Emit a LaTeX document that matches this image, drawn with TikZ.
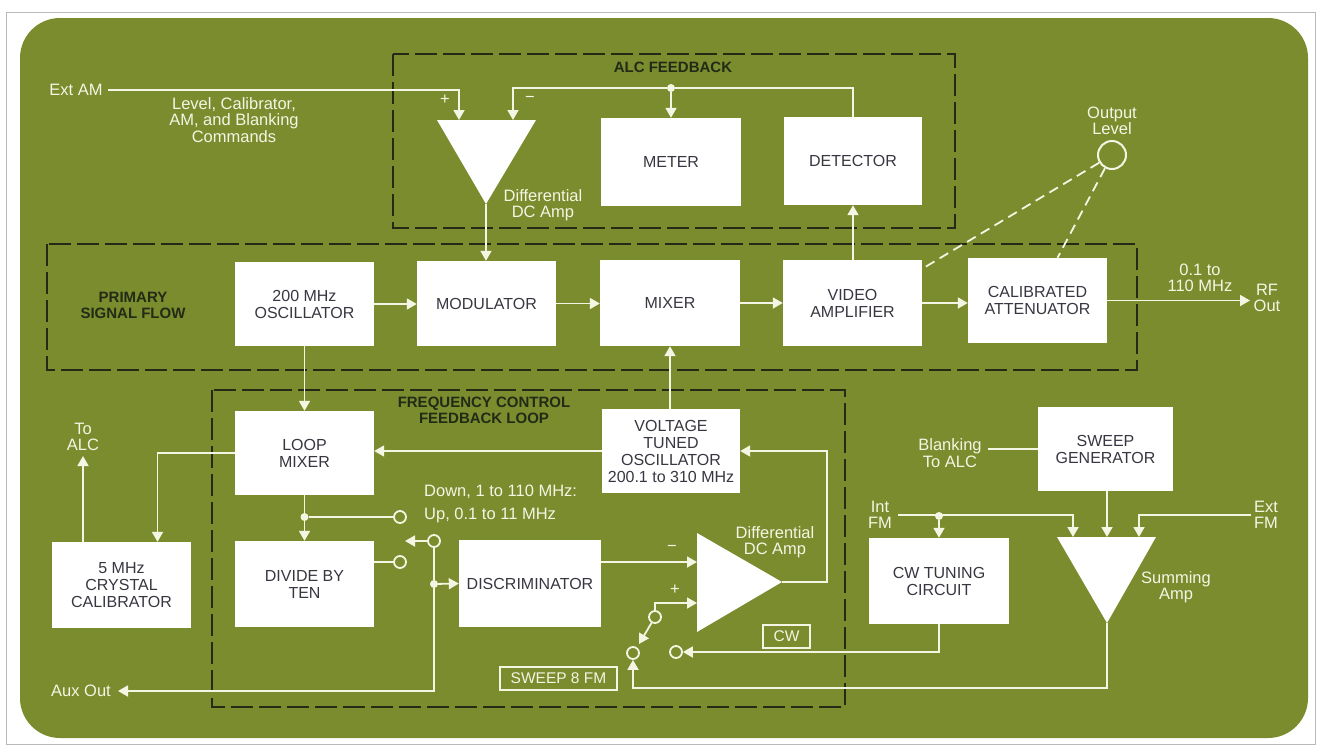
\documentclass[tikz,border=0pt]{standalone}
\usepackage{fontspec}
\setmainfont{Liberation Sans}
\usetikzlibrary{arrows.meta,calc}
\definecolor{bg}{RGB}{122,140,46}
\definecolor{dk}{RGB}{35,42,22}
\definecolor{lt}{RGB}{245,245,228}
\definecolor{tx}{RGB}{55,55,65}
\tikzset{
 blk/.style={fill=white, draw=none, text=tx, align=center, font=\fontsize{16}{17}\selectfont, inner sep=0pt},
 lab/.style={text=lt, align=center, font=\fontsize{16.5}{16.5}\selectfont, inner sep=0pt},
 ttl/.style={text=dk, align=center, font=\bfseries\fontsize{15}{16}\selectfont, inner sep=0pt},
 wire/.style={draw=lt, line width=1.8pt},
 arr/.style={wire, -{Triangle[length=10pt,width=11pt]}},
 grp/.style={draw=dk, line width=2.5pt, dash pattern=on 22pt off 6pt},
 dot/.style={circle, fill=lt, inner sep=0pt, minimum size=8pt},
 ctc/.style={circle, draw=lt, line width=1.8pt, fill=bg, inner sep=0pt, minimum size=12pt},
 ampl/.style={fill=white},
 tagbox/.style={draw=lt, line width=1.5pt, text=lt, font=\fontsize{15.5}{16}\selectfont, inner sep=0pt, minimum height=23pt},
 dashw/.style={draw=lt, line width=1.8pt, dash pattern=on 10pt off 6pt}
}
\begin{document}
\begin{tikzpicture}[x=1pt,y=-1pt]
\useasboundingbox (0,0) rectangle (1320,747);
\fill[white] (0,0) rectangle (1320,747);
\draw[gray!55, line width=1pt] (6,12) rectangle (1315,744);
\fill[bg, rounded corners=40pt] (20,18) rectangle (1308,738);

% group boxes
\draw[grp] (393,54) rectangle (955,228);
\draw[grp] (47,244) rectangle (1137,370);
\draw[grp] (212,390) rectangle (845,707);
\node[ttl] (tALC) at (673,67) {ALC FEEDBACK};
\node[ttl] (tPSF) at (133,305) {PRIMARY\\SIGNAL FLOW};
\node[ttl] (tFCL) at (484,410) {FREQUENCY CONTROL\\FEEDBACK LOOP};

% blocks
\node[blk, minimum width=140pt, minimum height=88pt] (meter) at (671,162) {METER};
\node[blk, minimum width=138pt, minimum height=88pt] (det) at (853,161) {DETECTOR};
\node[blk, minimum width=139pt, minimum height=84pt] (osc) at (304.5,304) {200 MHz\\OSCILLATOR};
\node[blk, minimum width=139pt, minimum height=85pt] (mod) at (486.5,303.5) {MODULATOR};
\node[blk, minimum width=140pt, minimum height=86pt] (mix) at (670,303) {MIXER};
\node[blk, minimum width=139pt, minimum height=86pt] (vid) at (852.5,303) {VIDEO\\AMPLIFIER};
\node[blk, minimum width=139pt, minimum height=85pt] (att) at (1037.5,300.5) {CALIBRATED\\ATTENUATOR};
\node[blk, minimum width=139pt, minimum height=84pt] (lmix) at (304.5,453) {LOOP\\MIXER};
\node[blk, minimum width=138pt, minimum height=84pt] (vto) at (671,451) {VOLTAGE\\TUNED\\OSCILLATOR\\200.1 to 310 MHz};
\node[blk, minimum width=139pt, minimum height=86pt] (cal) at (121.5,585) {5 MHz\\CRYSTAL\\CALIBRATOR};
\node[blk, minimum width=139pt, minimum height=86pt] (div) at (304.5,584) {DIVIDE BY\\TEN};
\node[blk, minimum width=142pt, minimum height=87pt] (disc) at (530,583.5) {DISCRIMINATOR};
\node[blk, minimum width=135pt, minimum height=84pt] (swg) at (1105.5,449) {SWEEP\\GENERATOR};
\node[blk, minimum width=140pt, minimum height=86pt] (cwt) at (939,581) {CW TUNING\\CIRCUIT};

% amplifiers
\fill[ampl] (437,120) -- (536,120) -- (486,204) -- cycle;
\coordinate (a1p) at (459,120);
\coordinate (a1m) at (513,120);
\coordinate (a1o) at (486,204);
\fill[ampl] (697,533) -- (697,632) -- (782,582) -- cycle;
\coordinate (a2m) at (697,562);
\coordinate (a2p) at (697,603);
\coordinate (a2o) at (782,582);
\fill[ampl] (1057,537) -- (1156,537) -- (1107,623) -- cycle;
\coordinate (a3i1) at (1073,537);
\coordinate (a3i2) at (1107,537);
\coordinate (a3i3) at (1139,537);
\coordinate (a3o) at (1107,623);

% labels
\node[lab] (extam) at (76,90) {Ext AM};
\node[lab] (cmds) at (234,120) {Level, Calibrator,\\AM, and Blanking\\Commands};
\node[lab] (plus1) at (445,100) {+};
\node[lab] (minus1) at (530,99) {−};
\node[lab] (dda1) at (543,205) {Differential\\DC Amp};
\node[lab] (ollab) at (1112,121) {Output\\Level};
\node[lab] (rflab) at (1200,278) {0.1 to\\110 MHz};
\node[lab] (rfout) at (1267,298) {RF\\Out};
\node[lab] (toalc) at (83,437) {To\\ALC};
\node[lab, anchor=east] (aux) at (111,691) {Aux Out};
\node[lab, align=left, anchor=west] (dn) at (424,492) {Down, 1 to 110 MHz:};
\node[lab, align=left, anchor=west] (up) at (424,515) {Up, 0.1 to 11 MHz};
\node[lab] (minus2) at (672,548) {−};
\node[lab] (plus2) at (675,590) {+};
\node[lab] (dda2) at (775,542) {Differential\\DC Amp};
\node[tagbox, minimum width=47pt] (cw) at (786.5,636.5) {CW};
\node[tagbox, minimum width=117pt] (swfm) at (558.5,678.5) {SWEEP 8 FM};
\node[lab] (blank) at (950,453) {Blanking\\To ALC};
\node[lab] (intfm) at (880,515) {Int\\FM};
\node[lab] (extfm) at (1266,515) {Ext\\FM};
\node[lab] (summ) at (1176,587) {Summing\\Amp};

% output level control
\node[circle, draw=lt, line width=2pt, minimum size=28pt, inner sep=0pt] (ol) at (1112,155) {};
\draw[dashw] (ol) -- ($(vid.north east)+(0,9)$);
\draw[dashw] (ol) -- ($(att.north)+(20,0)$);

% ALC loop
\node[dot] (d1) at (671,88) {};
\draw[arr, shorten <=5pt] (extam.east) -| (a1p);
\draw[arr] (d1) -- (meter.north);
\draw[arr] (d1) -| (a1m);
\draw[wire] (det.north) |- (d1);
\draw[arr] (det.south |- vid.north) -- (det.south);
\draw[arr] (a1o) -- (a1o |- mod.north);

% primary signal flow
\coordinate (rf) at (1250,300);
\draw[arr] (osc.east) -- (osc.east -| mod.west);
\draw[arr] (mod.east) -- (mod.east -| mix.west);
\draw[arr] (mix.east) -- (mix.east -| vid.west);
\draw[arr] (vid.east) -- (vid.east -| att.west);
\draw[arr] (att.east) -- (att.east -| rf);

% frequency control loop
\draw[arr] (osc.south) -- (lmix.north);
\draw[arr] (mix.south |- vto.north) -- (mix.south);
\draw[arr] (vto.west) -- (vto.west -| lmix.east);
\draw[arr] (lmix.west) -| ($(cal.north)+(36,0)$);
\coordinate (toalcT) at (83,456);
\draw[arr] (cal.north -| toalcT) -- (toalcT);
\draw[arr] (lmix.south) -- (div.north);

\node[dot] (dt1) at (304.5,517) {};
\node[ctc] (c1u) at (400,517) {};
\node[ctc] (c1l) at (400,562) {};
\node[ctc] (c1c) at (434,541) {};
\coordinate (b1) at (405,541);
\draw[wire] (dt1) -- (c1u);
\draw[wire] (div.east |- c1l) -- (c1l);
\draw[arr] (c1c) -- (b1);
\draw[arr, shorten >=7pt] (c1c) |- (aux.east);
\node[dot] (dt2) at (434,584) {};
\draw[arr] (dt2) -- (disc.west);

\draw[arr] (disc.east |- a2m) -- (a2m);
\coordinate (fb) at (827,582);
\draw[arr] (a2o) -- (fb) |- (vto.east);

\node[ctc] (c2c) at (655,617) {};
\node[ctc] (c2s) at (633,653) {};
\node[ctc] (c2w) at (676,652) {};
\coordinate (b2) at (639,644);
\draw[arr] (c2c) |- (a2p);
\draw[arr] (c2c) -- (b2);
\coordinate (sb) at (1107,688);
\draw[arr] (a3o) -- (sb) -| (c2s);
\draw[arr] (cwt.south) |- (c2w);

% sweep section
\draw[wire, shorten >=6pt] (swg.west) -- (swg.west -| blank.east);
\draw[arr] (a3i2 |- swg.south) -- (a3i2);
\node[dot] (dt3) at (939,516) {};
\draw[arr, shorten <=6pt] (intfm.east) -| (a3i1);
\draw[arr] (dt3) -- (cwt.north);
\draw[arr, shorten <=3pt] (extfm.west) -| (a3i3);
\end{tikzpicture}
\end{document}
